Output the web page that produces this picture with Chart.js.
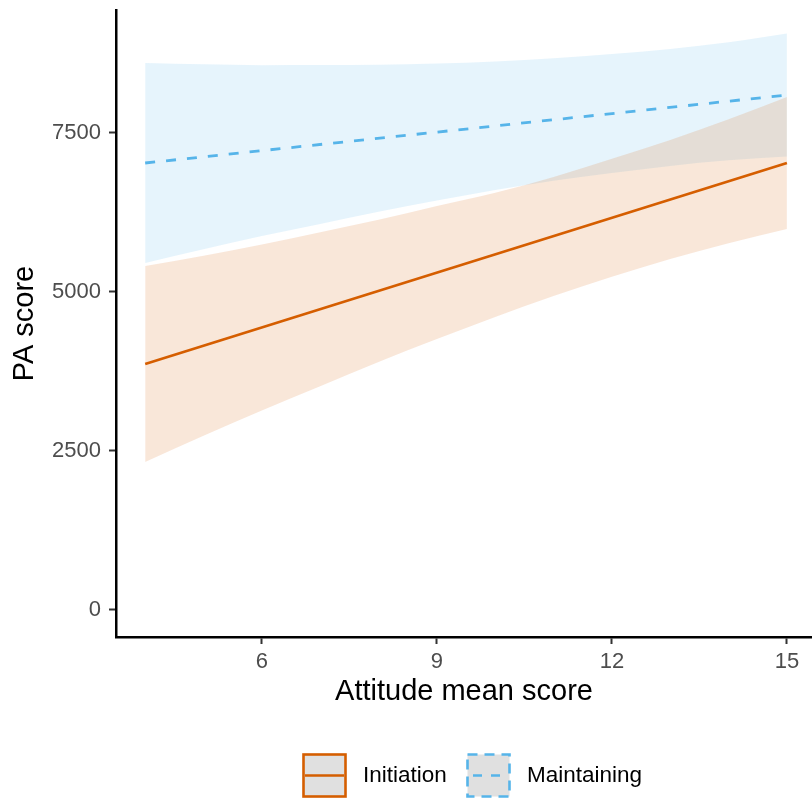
<!DOCTYPE html>
<html>
<head>
<meta charset="utf-8">
<script src="https://cdn.jsdelivr.net/npm/chart.js@4.4.1/dist/chart.umd.min.js"></script>
<style>
  html, body { margin: 0; padding: 0; background: #fff; }
  #wrap { position: relative; width: 812px; height: 801px; overflow: hidden; }
  #legend { position: absolute; left: 0; top: 752px; width: 812px; height: 46px;
            font-family: "Liberation Sans", Arial, sans-serif; font-size: 22.5px; color: #000; }
  .item { position: absolute; top: 0; height: 46px; display: flex; align-items: center; }
  .item svg { display: block; }
  .item span { margin-left: 16px; }
</style>
</head>
<body>
<div id="wrap">
  <canvas id="c" width="812" height="801"></canvas>
  <div id="legend"></div>
</div>
<script>
// ---- data ----
const ribbonX = [4, 5, 6, 7, 8, 9, 10, 11, 12, 13, 14, 15];
const initiationUpper = [5409, 5571, 5747, 5940, 6134, 6351, 6560, 6810, 7094, 7390, 7715, 8066];
const initiationLower = [2327, 2741, 3137, 3519, 3901, 4259, 4608, 4935, 5239, 5519, 5766, 5990];
const maintainingUpper = [8600, 8580, 8567, 8569, 8572, 8591, 8626, 8676, 8742, 8822, 8927, 9064];
const maintainingLower = [5456, 5671, 5879, 6069, 6261, 6437, 6605, 6750, 6871, 6983, 7072, 7130];
const fitX = [4, 15];
const initiationFit = [3868, 7028];
const maintainingFit = [7028, 8097];
const xTicks = [6, 9, 12, 15];
const yTicks = [0, 2500, 5000, 7500];
const seriesNames = ["Initiation", "Maintaining"];

const ORANGE = "#D55E00";
const BLUE = "#56B4E9";
const FONT = "'Liberation Sans', Arial, sans-serif";

function pts(xs, ys) { return xs.map((x, i) => ({ x: x, y: ys[i] })); }

const ribbonBase = { borderWidth: 0, pointRadius: 0, pointHoverRadius: 0, cubicInterpolationMode: 'monotone' };

const datasets = [
  Object.assign({ label: 'iLow', data: pts(ribbonX, initiationLower), fill: false, backgroundColor: 'rgba(0,0,0,0)' }, ribbonBase),
  Object.assign({ label: 'iUp', data: pts(ribbonX, initiationUpper), fill: '-1', backgroundColor: 'rgba(213,94,0,0.15)' }, ribbonBase),
  Object.assign({ label: 'mLow', data: pts(ribbonX, maintainingLower), fill: false, backgroundColor: 'rgba(0,0,0,0)' }, ribbonBase),
  Object.assign({ label: 'mUp', data: pts(ribbonX, maintainingUpper), fill: '-1', backgroundColor: 'rgba(86,180,233,0.15)' }, ribbonBase),
  { label: seriesNames[0], data: pts(fitX, initiationFit), borderColor: ORANGE, borderWidth: 2.7, pointRadius: 0, fill: false },
  { label: seriesNames[1], data: pts(fitX, maintainingFit), borderColor: BLUE, borderWidth: 2.8, borderDash: [10, 11], pointRadius: 0, fill: false }
];

function noPad(s) { s.paddingTop = 0; s.paddingBottom = 0; s.paddingLeft = 0; s.paddingRight = 0; }

new Chart(document.getElementById('c'), {
  type: 'line',
  data: { datasets: datasets },
  options: {
    responsive: false,
    animation: false,
    layout: { padding: { left: 0, right: 0, top: 10, bottom: 0 } },
    plugins: { legend: { display: false }, tooltip: { enabled: false } },
    scales: {
      x: {
        type: 'linear', min: 3.5, max: 15.43,
        afterFit: s => { s.height = 164; noPad(s); },
        afterBuildTicks: s => { s.ticks = xTicks.map(v => ({ value: v })); },
        grid: { display: true, drawOnChartArea: false, drawTicks: true, tickLength: 7, tickColor: '#333', tickWidth: 2 },
        border: { display: true, color: '#000', width: 2.5 },
        ticks: { color: '#4D4D4D', font: { family: FONT, size: 22 }, padding: 5, maxRotation: 0, callback: v => String(v) },
        title: { display: true, text: 'Attitude mean score', color: '#000', font: { family: FONT, size: 29 }, padding: { top: 0, bottom: 92 } }
      },
      y: {
        type: 'linear', min: -425, max: 9434,
        afterFit: s => { s.width = 116; noPad(s); },
        afterBuildTicks: s => { s.ticks = yTicks.map(v => ({ value: v })); },
        grid: { display: true, drawOnChartArea: false, drawTicks: true, tickLength: 7, tickColor: '#333', tickWidth: 2 },
        border: { display: true, color: '#000', width: 2.5 },
        ticks: { color: '#4D4D4D', font: { family: FONT, size: 22 }, padding: 8, callback: v => String(v) },
        title: { display: true, text: 'PA score', color: '#000', font: { family: FONT, size: 29 }, padding: { top: 8, bottom: 0 } }
      }
    }
  }
});

// legend (HTML text, swatches as small SVG)
const legend = document.getElementById('legend');
const legendItems = [
  { name: seriesNames[0], color: ORANGE, dash: null, left: 302 },
  { name: seriesNames[1], color: BLUE, dash: '10,7', left: 466 }
];
legendItems.forEach(it => {
  const d = document.createElement('div');
  d.className = 'item';
  d.style.left = it.left + 'px';
  const dashAttr = it.dash ? ` stroke-dasharray="${it.dash}"` : '';
  d.innerHTML = `<svg width="45" height="45" viewBox="0 0 45 45">
      <rect x="1.5" y="1.5" width="42" height="42" fill="#E0E0E0" stroke="${it.color}" stroke-width="2.6"${dashAttr}/>
      <line x1="3" y1="22.5" x2="42" y2="22.5" stroke="${it.color}" stroke-width="2.6"${it.dash ? ' stroke-dasharray="9,9" stroke-dashoffset="-4"' : ''}/>
    </svg><span>${it.name}</span>`;
  legend.appendChild(d);
});
</script>
</body>
</html>
